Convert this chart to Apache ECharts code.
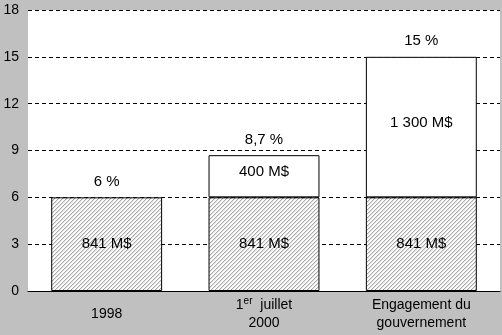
<!DOCTYPE html>
<html><head><meta charset="utf-8">
<script src="https://cdn.jsdelivr.net/npm/echarts@6/dist/echarts.min.js"></script>
<style>html,body{margin:0;padding:0;background:#c0c0c0}#c{width:502px;height:335px}</style>
</head><body><div id="c"></div>
<script>
var categories = ['1998', '1er juillet\n2000', 'Engagement du\ngouvernement'];
var baseValues = [6, 6, 6];
var baseLabels = ['841 M$', '841 M$', '841 M$'];
var addValues = ['-', 2.7, 9];
var addLabels = ['', '400 M$', '1 300 M$'];
var totalLabels = ['6 %', '8,7 %', '15 %'];
var yTicks = [0, 3, 6, 9, 12, 15, 18];

var pc = document.createElement('canvas');
pc.width = 4; pc.height = 4;
var ctx = pc.getContext('2d');
ctx.fillStyle = '#ffffff'; ctx.fillRect(0, 0, 4, 4);
for (var y = 0; y < 4; y++) for (var x = 0; x < 4; x++) {
  var m = (x + y) % 4;
  if (m === 0) { ctx.fillStyle = '#a8a8a8'; ctx.fillRect(x, y, 1, 1); }
  if (m === 1) { ctx.fillStyle = '#e0e0e0'; ctx.fillRect(x, y, 1, 1); }
}

var font = 'Liberation Sans, Arial, sans-serif';
var chart = echarts.init(document.getElementById('c'));
chart.setOption({
  backgroundColor: '#c0c0c0',
  animation: false,
  grid: { left: 28, right: 2, top: 10, bottom: 44, show: true, backgroundColor: '#ffffff', borderWidth: 0 },
  xAxis: {
    type: 'category', data: categories,
    axisLine: { lineStyle: { color: '#000', width: 1 } },
    axisTick: { show: false },
    axisLabel: {
      interval: 0, hideOverlap: false,
      color: '#000', fontFamily: font, fontSize: 14, lineHeight: 18,
      verticalAlign: 'middle', margin: 23,
      formatter: function (v) {
        if (v.indexOf('1er') === 0) return '{n|1}{s|er}{n|  juillet}\n{n|2000}';
        return v;
      },
      rich: {
        n: { fontFamily: font, fontSize: 14, color: '#000', lineHeight: 18 },
        s: { fontFamily: font, fontSize: 10, color: '#000', verticalAlign: 'top', lineHeight: 18, padding: [0, 0, 6, 0] }
      }
    }
  },
  yAxis: {
    type: 'value', min: 0, max: 18, interval: 3,
    axisLine: { show: false }, axisTick: { show: false },
    axisLabel: { color: '#000', fontFamily: font, fontSize: 14, margin: 9,
      formatter: function (v) { return yTicks.indexOf(v) >= 0 ? String(v) : ''; } },
    splitLine: { lineStyle: { color: '#000', type: [4, 3], width: 1 } }
  },
  series: [
    {
      type: 'bar', stack: 's', data: baseValues, barWidth: '70.5%',
      itemStyle: { color: { image: pc, repetition: 'repeat' }, borderColor: '#000', borderWidth: 1 },
      label: { show: true, position: 'inside', color: '#000', fontFamily: font, fontSize: 15,
        formatter: function (p) { return baseLabels[p.dataIndex]; } }
    },
    {
      type: 'bar', stack: 's', data: addValues, barWidth: '70.5%',
      itemStyle: { color: '#fff', borderColor: '#000', borderWidth: 1 },
      label: { show: true, position: 'inside', offset: [0, -4], color: '#000', fontFamily: font, fontSize: 15,
        formatter: function (p) { return addLabels[p.dataIndex]; } }
    },
    {
      type: 'bar', stack: 's', data: [0, 0, 0], barWidth: '70.5%',
      itemStyle: { color: 'transparent', borderWidth: 0 },
      label: { show: true, position: 'top', distance: 8, color: '#000', fontFamily: font, fontSize: 15,
        formatter: function (p) { return totalLabels[p.dataIndex]; } }
    }
  ]
});
</script></body></html>
